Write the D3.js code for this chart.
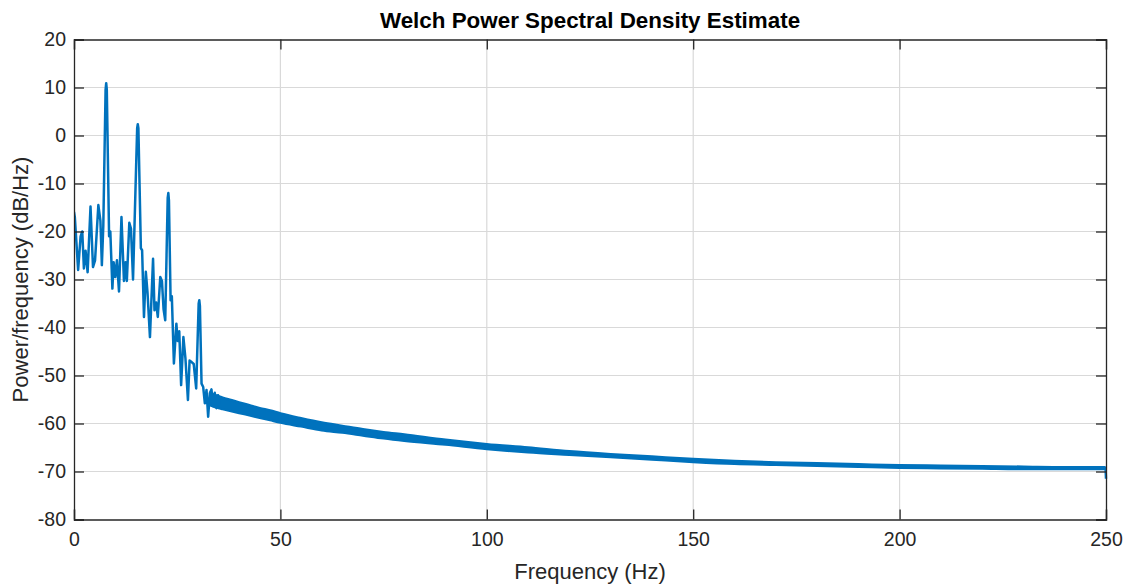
<!DOCTYPE html>
<html>
<head>
<meta charset="utf-8">
<script src="https://cdn.jsdelivr.net/npm/d3@7"></script>
<style>
  html, body { margin: 0; padding: 0; background: #ffffff; }
  svg { display: block; font-family: "Liberation Sans", Arial, Helvetica, sans-serif; }
</style>
</head>
<body>
<svg id="chart" width="1129" height="585"></svg>
<script>
// Low-frequency part of the spectrum (Hz, dB/Hz): harmonic peaks near 7.8, 15.5, 22.9, 30.3 Hz
const lowFreq = [
  0.0, 0.2, 1.0, 1.6, 2.0, 2.4, 2.8, 3.3, 4.0, 4.6, 5.1, 5.9, 6.4, 6.75, 7.1,
  7.65, 7.8, 7.95, 8.5, 8.8, 9.3, 9.6, 10.0, 10.4, 10.9, 11.5, 12.1, 12.5, 12.8,
  13.4, 13.8, 14.3, 15.3, 15.45, 15.6, 16.2, 16.5, 16.95, 17.4, 17.8, 18.4,
  19.15, 19.5, 19.9, 20.3, 20.9, 21.3, 21.7, 22.1, 22.7, 22.85, 23.0, 23.4,
  23.7, 24.2, 24.8, 25.1, 25.5, 25.95, 26.5, 27.0, 27.6, 28.0, 28.5, 29.0,
  29.6, 30.2, 30.35, 30.5, 30.9, 31.3, 31.7, 32.1, 32.5, 32.9, 33.3, 33.7,
  34.1, 34.5, 34.9, 35.3
];
const lowPower = [
  -15.9, -17.0, -28.0, -21.0, -20.0, -27.7, -24.0, -28.5, -14.8, -27.4, -26.0, -14.5, -17.8, -27.0, -18.8,
  9.5, 10.9, 9.5, -21.0, -20.0, -31.9, -26.4, -29.5, -26.0, -32.5, -17.0, -30.3, -26.4, -30.3,
  -18.2, -19.4, -30.0, 1.5, 2.35, 1.5, -23.5, -23.9, -37.8, -28.4, -32.6, -42.0,
  -25.7, -36.4, -34.8, -37.8, -29.5, -30.3, -36.2, -38.5, -13.0, -12.0, -13.5, -34.3,
  -33.5, -47.5, -39.2, -42.8, -40.8, -52.0, -42.0, -46.5, -55.1, -46.9, -47.2, -47.6,
  -52.7, -35.0, -34.3, -35.5, -51.7, -52.4, -55.8, -53.0, -58.6, -53.7, -52.9, -56.4,
  -53.6, -56.8, -54.1, -56.3
];

// Noise floor above ~33 Hz: upper and lower edge of the dense trace (dB/Hz)
const floorFreq = [
  33, 34, 35, 36, 38, 40, 42.5, 45, 47.5, 50, 55, 60, 65, 70, 75, 80, 90, 100,
  110, 120, 130, 140, 150, 160, 170, 180, 190, 200, 210, 220, 230, 240, 249.7
];
const floorUpper = [
  -53.6, -54.0, -54.3, -54.6, -55.1, -55.6, -56.2, -56.8, -57.3, -57.9, -58.9, -59.8, -60.5, -61.2, -61.8, -62.3, -63.4, -64.3,
  -65.0, -65.8, -66.4, -66.9, -67.4, -67.8, -68.1, -68.3, -68.5, -68.7, -68.8, -68.9, -69.0, -69.1, -69.1
];
const floorLower = [
  -56.2, -56.5, -56.8, -57.0, -57.4, -57.8, -58.3, -58.8, -59.3, -59.8, -60.6, -61.4, -61.9, -62.5, -63.1, -63.6, -64.4, -65.3,
  -66.0, -66.5, -67.0, -67.5, -68.0, -68.4, -68.6, -68.8, -69.0, -69.2, -69.3, -69.4, -69.5, -69.5, -69.5
];

// Last bins at the Nyquist edge
const tailFreq = [249.6, 249.9, 250];
const tailPower = [-69.3, -69.4, -71.5];

const xTicks = [0, 50, 100, 150, 200, 250];
const yTicks = [-80, -70, -60, -50, -40, -30, -20, -10, 0, 10, 20];

const titleText = "Welch Power Spectral Density Estimate";
const xLabelText = "Frequency (Hz)";
const yLabelText = "Power/frequency (dB/Hz)";

const lowPoints = lowFreq.map((f, i) => [f, lowPower[i]]);
const floorPoints = floorFreq.map((f, i) => ({ f, hi: floorUpper[i], lo: floorLower[i] }));
const tailPoints = tailFreq.map((f, i) => [f, tailPower[i]]);

const margin = { left: 74, right: 23, top: 39.5, bottom: 65.5 };
const width = 1129, height = 585;
const svg = d3.select("#chart");

const x = d3.scaleLinear().domain([0, 250]).range([margin.left, width - margin.right]);
const y = d3.scaleLinear().domain([-80, 20]).range([height - margin.bottom, margin.top]);

const x0 = x.range()[0], x1 = x.range()[1];
const y0 = y.range()[0], y1 = y.range()[1];

const gridColor = "#d9d9d9";
const axisColor = "#262626";
const lineColor = "#0072BD";
const lineWidth = 2.5;
const tickLen = 10;

// Grid
svg.append("g").selectAll("line").data(xTicks.slice(1, -1)).join("line")
  .attr("x1", d => x(d)).attr("x2", d => x(d))
  .attr("y1", y1).attr("y2", y0)
  .attr("stroke", gridColor).attr("stroke-width", 1.2);
svg.append("g").selectAll("line").data(yTicks.slice(1, -1)).join("line")
  .attr("x1", x0).attr("x2", x1)
  .attr("y1", d => y(d)).attr("y2", d => y(d))
  .attr("stroke", gridColor).attr("stroke-width", 1.2);

// Spectrum trace
svg.append("defs").append("clipPath").attr("id", "plotClip")
  .append("rect").attr("x", x0).attr("y", y1 - 2).attr("width", x1 - x0 + 2).attr("height", y0 - y1 + 4);

const plot = svg.append("g").attr("clip-path", "url(#plotClip)");

// dense noise floor: filled between its upper and lower edges
const floorArea = d3.area()
  .curve(d3.curveMonotoneX)
  .x(d => x(d.f))
  .y0(d => y(d.lo))
  .y1(d => y(d.hi));
plot.append("path")
  .datum(floorPoints)
  .attr("fill", lineColor)
  .attr("stroke", lineColor)
  .attr("stroke-width", lineWidth)
  .attr("stroke-linejoin", "round")
  .attr("d", floorArea);

const line = d3.line().x(d => x(d[0])).y(d => y(d[1]));
plot.append("path")
  .datum(lowPoints)
  .attr("fill", "none")
  .attr("stroke", lineColor)
  .attr("stroke-width", lineWidth)
  .attr("stroke-linejoin", "round")
  .attr("d", line);
plot.append("path")
  .datum(tailPoints)
  .attr("fill", "none")
  .attr("stroke", lineColor)
  .attr("stroke-width", lineWidth)
  .attr("d", line);

// Axes: bottom/left with labels, top/right mirrored ticks, all inward
const fmt = d => String(d);
const axisBottom = d3.axisBottom(x).tickValues(xTicks).tickSize(-tickLen).tickPadding(13).tickFormat(fmt);
const axisLeft = d3.axisLeft(y).tickValues(yTicks).tickSize(-tickLen).tickPadding(8).tickFormat(fmt);
const axisTop = d3.axisTop(x).tickValues(xTicks).tickSize(-tickLen).tickFormat("");
const axisRight = d3.axisRight(y).tickValues(yTicks).tickSize(-tickLen).tickFormat("");

function styleAxis(g) {
  g.select(".domain").attr("stroke", axisColor).attr("stroke-width", 1.3);
  g.selectAll(".tick line").attr("stroke", axisColor).attr("stroke-width", 1.3);
  g.selectAll(".tick text").attr("fill", "#262626").attr("font-size", 19.5)
    .attr("font-family", "'Liberation Sans', Arial, Helvetica, sans-serif");
}

svg.append("g").attr("transform", `translate(0,${y0})`).call(axisBottom).call(styleAxis);
svg.append("g").attr("transform", `translate(${x0},0)`).call(axisLeft).call(styleAxis);
svg.append("g").attr("transform", `translate(0,${y1})`).call(axisTop).call(styleAxis);
svg.append("g").attr("transform", `translate(${x1},0)`).call(axisRight).call(styleAxis);

// Title and axis labels
svg.append("text")
  .attr("x", (x0 + x1) / 2).attr("y", 28)
  .attr("text-anchor", "middle")
  .attr("font-size", 22.4).attr("font-weight", "bold").attr("fill", "#000")
  .text(titleText);

svg.append("text")
  .attr("x", (x0 + x1) / 2).attr("y", 579)
  .attr("text-anchor", "middle")
  .attr("font-size", 22).attr("fill", "#262626")
  .text(xLabelText);

svg.append("text")
  .attr("transform", `translate(28,${(y0 + y1) / 2}) rotate(-90)`)
  .attr("text-anchor", "middle")
  .attr("font-size", 22).attr("fill", "#262626")
  .text(yLabelText);
</script>
</body>
</html>
